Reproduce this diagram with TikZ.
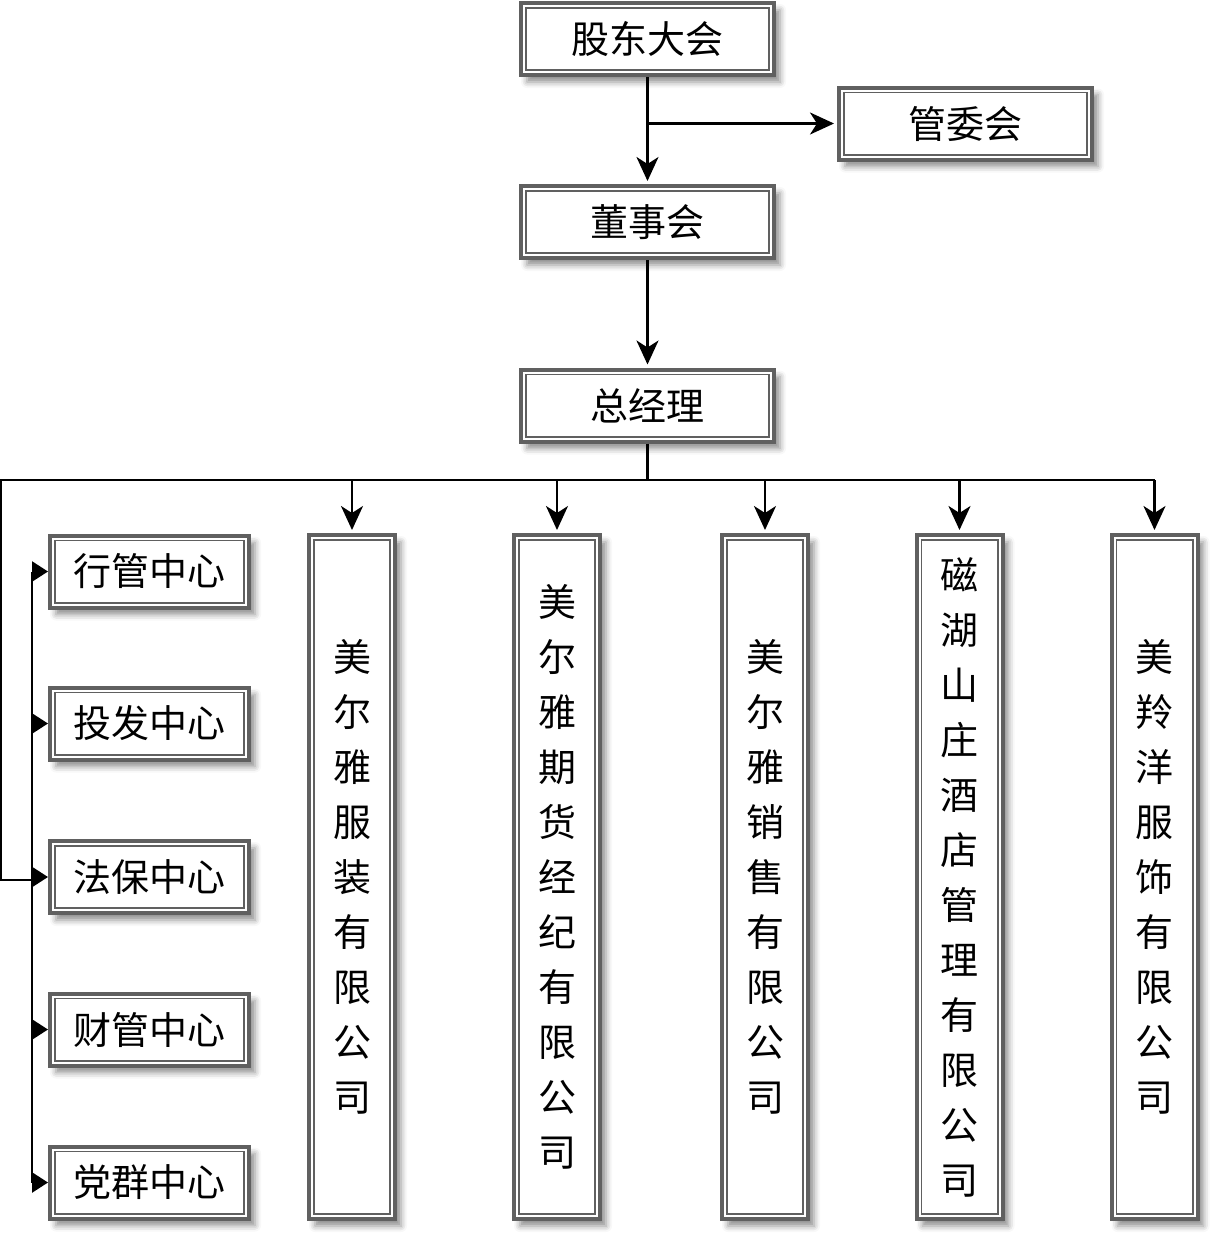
\documentclass[tikz,border=0pt]{standalone}
\usepackage{fontspec}
\setmainfont{Noto Sans CJK SC}
\usetikzlibrary{positioning,arrows.meta,shadows.blur}
\definecolor{framegray}{HTML}{606060}
\tikzset{
  unit/.style={draw=framegray, line width=2pt, fill=white, inner sep=0pt,
    font=\fontsize{19pt}{27.5pt}\selectfont,
    blur shadow={shadow xshift=3pt, shadow yshift=-3.5pt, shadow blur radius=3pt, shadow opacity=45},
    path picture={\draw[framegray, line width=0.8pt]
      ([shift={(2.4pt,2.4pt)}]path picture bounding box.south west) rectangle
      ([shift={(-2.4pt,-2.4pt)}]path picture bounding box.north east);}},
  widebox/.style={unit, minimum width=126.5pt, minimum height=36pt},
  sidebox/.style={unit, minimum width=99.5pt, minimum height=36pt},
  tallbox/.style={unit, minimum width=43pt, minimum height=342pt, align=center},
  wire/.style={line width=1.2pt},
  link/.style={wire, shorten >=1.5pt, -{Stealth[length=12pt,width=11pt,inset=3.5pt]}},
  feed/.style={wire, -{Triangle[length=8pt,width=10pt]}}
}
\begin{document}
\begin{tikzpicture}[x=0.5pt, y=-0.5pt]
  \useasboundingbox (0,0) rectangle (1213,1238);
  \node[widebox] (gudong) at (647.5,39) {股东大会};
  \node[widebox] (guanwei) at (965.5,123.5) {管委会};
  \node[widebox] (dongshi) at (647.5,222) {董事会};
  \node[widebox] (zongjl) at (647.5,405.5) {总经理};
  \node[sidebox] (xingguan) at (149.5,571.5) {行管中心};
  \node[sidebox] (toufa) at (149.5,723.5) {投发中心};
  \node[sidebox] (fabao) at (149.5,877) {法保中心};
  \node[sidebox] (caiguan) at (149.5,1029.5) {财管中心};
  \node[sidebox] (dangqun) at (149.5,1182.5) {党群中心};
  \node[tallbox] (fuzhuang) at (352,877) {美\\尔\\雅\\服\\装\\有\\限\\公\\司};
  \node[tallbox] (qihuo) at (557,877) {美\\尔\\雅\\期\\货\\经\\纪\\有\\限\\公\\司};
  \node[tallbox] (xiaoshou) at (765,877) {美\\尔\\雅\\销\\售\\有\\限\\公\\司};
  \node[tallbox] (cihu) at (959.5,877) {磁\\湖\\山\\庄\\酒\\店\\管\\理\\有\\限\\公\\司};
  \node[tallbox] (meiling) at (1154.5,877) {美\\羚\\洋\\服\\饰\\有\\限\\公\\司};
  \coordinate (fork) at (647.5,480);
  \coordinate (corner) at (1.2,480);
  \coordinate (turn) at (1.2,880);
  \coordinate (spine) at (32,880);
  \draw[link] (gudong) -- (dongshi);
  \draw[link] (gudong.south |- guanwei.west) -- (guanwei);
  \draw[link] (dongshi) -- (zongjl);
  \draw[wire] (zongjl) -- (fork)
              (spine) -- (turn) -- (corner) -- (fork -| meiling)
              (xingguan.west -| spine) -- (dangqun.west -| spine);
  \foreach \firm in {fuzhuang,qihuo,xiaoshou,cihu,meiling}
    \draw[link] (fork -| \firm) -- (\firm);
  \foreach \dept in {xingguan,toufa,fabao,caiguan,dangqun}
    \draw[feed] (\dept.west -| spine) -- (\dept);
\end{tikzpicture}
\end{document}
